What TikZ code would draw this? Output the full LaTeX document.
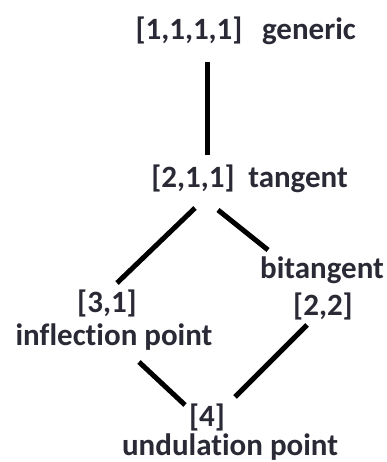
\documentclass[tikz,border=0pt]{standalone}
\usepackage{fontspec}
\setmainfont{Carlito}[Ligatures=NoCommon]
\usetikzlibrary{calc}
\definecolor{txt}{HTML}{2A2A36}
\begin{document}
\begin{tikzpicture}[x=1pt,y=-1pt,
  lab/.style={anchor=base,inner sep=0pt,text=txt,font=\fontsize{31}{36}\selectfont\bfseries},
  edge/.style={line width=5pt,black}]
\useasboundingbox[fill=white] (0,0) rectangle (387,462);
\node[lab] (g)   at (189,40)  {[1,1,1,1]};
\node[lab] (gen) at (309,40)  {generic};
\node[lab] (t)   at (193,188) {[2,1,1]};
\node[lab] (tan) at (298,188) {tangent};
\node[lab] (bt)  at (322,278) {bitangent};
\node[lab] (b22) at (323,315) {[2,2]};
\node[lab] (i31) at (107,312) {[3,1]};
\node[lab] (il)  at (114,345) {inflection point};
\node[lab] (u4)  at (207,426) {[4]};
\node[lab] (ul)  at (230,455) {undulation point};
\draw[edge] ($(g.base)+(18,22)$) -- ($(t.base)+(14,-33)$);
\draw[edge] ($(t.base)+(2,20)$) -- ($(i31.base)+(10,-29)$);
\draw[edge] ($(t.base)+(25,22)$) -- ($(bt.base)+(-54,-28)$);
\draw[edge] ($(il.base)+(25,17)$) -- ($(u4.base)+(-22,-21)$);
\draw[edge] ($(b22.base)+(-16,10)$) -- ($(u4.base)+(28,-29)$);
\end{tikzpicture}
\end{document}
